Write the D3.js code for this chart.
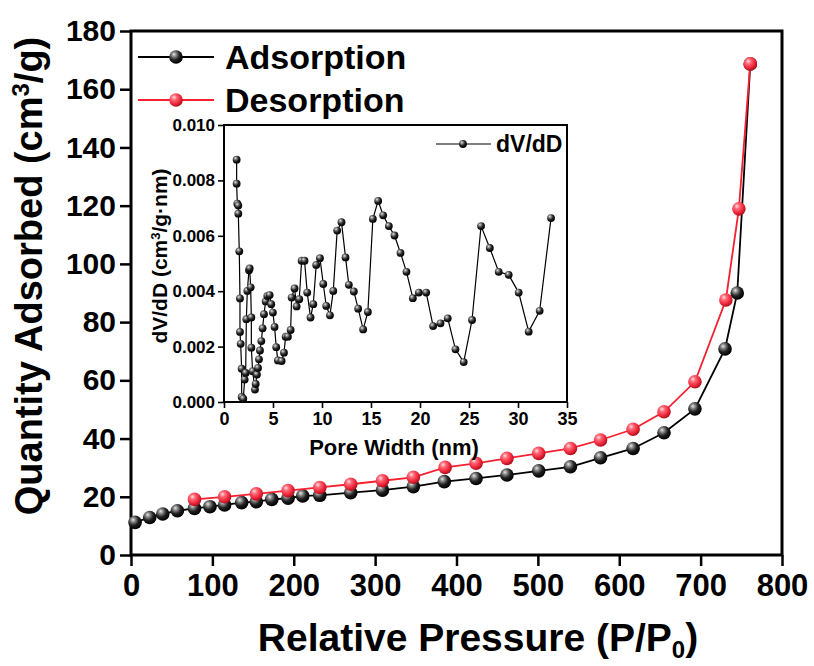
<!DOCTYPE html>
<html><head><meta charset="utf-8">
<script src="https://cdn.jsdelivr.net/npm/d3@7"></script>
<style>body{margin:0;background:#fff}svg text{font-family:"Liberation Sans",Arial,sans-serif;font-weight:bold;fill:#000}</style>
</head><body>
<svg id="c" width="814" height="666"></svg>
<script>
// ---- data ----
const adsPressure = [5,23,39,57,78,97,115,136,154,173,193,211,232,270,309,347,385,424,462,501,540,577,617,655,693,730,745,761];
const adsQuantity = [11.2,12.9,14.1,15.2,16.0,16.6,17.2,18.0,18.3,19.1,19.5,20.3,20.5,21.4,22.3,23.5,25.2,26.3,27.5,28.9,30.3,33.4,36.6,42.0,50.2,70.8,90.0,168.7];
const desPressure = [78,115,154,193,232,270,309,347,386,424,462,501,540,577,617,655,693,731,747,761];
const desQuantity = [19.1,20.0,21.0,22.1,23.2,24.3,25.5,26.7,30.1,31.5,33.2,34.9,36.6,39.5,43.2,49.2,59.5,87.6,118.9,168.7];
const poreWidth = [1.29,1.29,1.36,1.46,1.46,1.56,1.63,1.63,1.70,1.80,1.80,1.97,2.11,2.21,2.28,2.38,2.55,2.62,2.72,2.79,2.79,2.92,3.16,3.23,3.36,3.47,3.57,3.67,3.81,3.94,4.08,4.25,4.42,4.66,4.82,4.99,5.16,5.33,5.50,5.88,6.12,6.29,6.52,6.80,6.90,7.20,7.41,7.68,7.92,8.22,8.49,8.83,9.11,9.41,9.79,10.13,10.43,10.81,11.15,11.55,11.99,12.40,12.74,13.25,13.69,14.20,14.68,15.19,15.73,16.24,16.82,17.40,18.01,18.62,19.27,19.88,20.63,21.34,22.09,22.83,23.62,24.46,25.31,26.23,27.12,28.03,29.05,30.07,31.09,32.21,33.37];
const dVdD = [0.00875,0.00788,0.00716,0.00709,0.00680,0.00544,0.00374,0.00253,0.00210,0.00120,0.00018,0.00012,0.00081,0.00105,0.00299,0.00401,0.00476,0.00482,0.00414,0.00305,0.00196,0.00111,0.00045,0.00065,0.00099,0.00123,0.00154,0.00186,0.00220,0.00266,0.00317,0.00363,0.00383,0.00386,0.00353,0.00323,0.00271,0.00198,0.00150,0.00148,0.00178,0.00236,0.00236,0.00260,0.00377,0.00410,0.00345,0.00371,0.00510,0.00510,0.00395,0.00305,0.00353,0.00495,0.00519,0.00426,0.00347,0.00313,0.00401,0.00619,0.00649,0.00522,0.00423,0.00399,0.00337,0.00262,0.00325,0.00661,0.00726,0.00674,0.00635,0.00601,0.00538,0.00470,0.00375,0.00395,0.00395,0.00274,0.00284,0.00302,0.00190,0.00144,0.00296,0.00635,0.00556,0.00470,0.00459,0.00395,0.00254,0.00329,0.00664];
const mainXTicks = [0,100,200,300,400,500,600,700,800];
const mainYTicks = [0,20,40,60,80,100,120,140,160,180];
const insetXTicks = [0,5,10,15,20,25,30,35];
const insetYTicks = [0,0.002,0.004,0.006,0.008,0.010];
const seriesNames = ["Adsorption","Desorption"];
const insetName = "dV/dD";

// ---- setup ----
const svg = d3.select("#c");
const defs = svg.append("defs");
function grad(id, stops){
  const g = defs.append("radialGradient").attr("id",id).attr("cx","38%").attr("cy","35%").attr("r","65%").attr("fx","35%").attr("fy","30%");
  stops.forEach(s=>g.append("stop").attr("offset",s[0]).attr("stop-color",s[1]));
}
grad("gBlack",[["0%","#e8e8e8"],["25%","#8a8a8a"],["60%","#222"],["100%","#000"]]);
grad("gRed",[["0%","#ffe0e0"],["30%","#ff6a78"],["70%","#f0283c"],["100%","#b0101e"]]);

const x = d3.scaleLinear().domain([0,800]).range([131,782]);
const y = d3.scaleLinear().domain([0,180]).range([555,31]);

// main axes
const gx = svg.append("g").attr("transform","translate(0,555)");
gx.call(d3.axisBottom(x).tickValues(d3.range(50,800,100)).tickSize(6).tickFormat(""));
gx.call(d3.axisBottom(x).tickValues(mainXTicks).tickSize(11).tickPadding(8).tickFormat(d3.format("d")));
gx.selectAll("text").style("font-size","31px").attr("dy","0.72em");
const gy = svg.append("g").attr("transform","translate(131,0)");
gy.call(d3.axisLeft(y).tickValues(d3.range(10,180,20)).tickSize(6).tickFormat(""));
gy.call(d3.axisLeft(y).tickValues(mainYTicks).tickSize(11).tickPadding(4).tickFormat(d3.format("d")));
gy.selectAll("text").style("font-size","30px");
svg.selectAll(".domain").remove();
svg.selectAll(".tick line").attr("stroke","#000").attr("stroke-width",2.5);
svg.append("rect").attr("x",131).attr("y",31).attr("width",651).attr("height",524)
  .attr("fill","none").attr("stroke","#000").attr("stroke-width",3);

// axis titles
const yt = svg.append("text").attr("transform","translate(42,276) rotate(-90)").attr("text-anchor","middle").style("font-size","38px");
yt.append("tspan").text("Quantity Adsorbed (cm");
yt.append("tspan").text("3").style("font-size","24px").attr("dy","-0.55em");
yt.append("tspan").text("/g)").attr("dy","0.35em");
const xt = svg.append("text").attr("x",478).attr("y",651).attr("text-anchor","middle").style("font-size","39px");
xt.append("tspan").text("Relative Pressure (P/P");
xt.append("tspan").text("0").style("font-size","24px").attr("dy","0.3em");
xt.append("tspan").text(")").attr("dy","-0.2em");

// main series
const line = d3.line().x(d=>x(d[0])).y(d=>y(d[1]));
const ads = adsPressure.map((p,i)=>[p,adsQuantity[i]]);
const des = desPressure.map((p,i)=>[p,desQuantity[i]]);
svg.append("path").datum(ads).attr("d",line).attr("fill","none").attr("stroke","#000").attr("stroke-width",1.8);
svg.append("g").selectAll("circle").data(ads).join("circle")
  .attr("cx",d=>x(d[0])).attr("cy",d=>y(d[1])).attr("r",6.8).attr("fill","url(#gBlack)");
svg.append("path").datum(des).attr("d",line).attr("fill","none").attr("stroke","#f52030").attr("stroke-width",1.8);
svg.append("g").selectAll("circle").data(des).join("circle")
  .attr("cx",d=>x(d[0])).attr("cy",d=>y(d[1])).attr("r",6.8).attr("fill","url(#gRed)");

// main legend
const legY = [57,100];
const legCol = ["#000","#f52030"];
const legFill = ["url(#gBlack)","url(#gRed)"];
seriesNames.forEach((n,i)=>{
  svg.append("line").attr("x1",138).attr("x2",214).attr("y1",legY[i]).attr("y2",legY[i]).attr("stroke",legCol[i]).attr("stroke-width",1.8);
  svg.append("circle").attr("cx",176).attr("cy",legY[i]).attr("r",6.8).attr("fill",legFill[i]);
  svg.append("text").attr("x",225).attr("y",legY[i]).attr("dy","0.36em").style("font-size","34px").text(n);
});

// ---- inset ----
const ix = d3.scaleLinear().domain([0,35]).range([224,567]);
const iy = d3.scaleLinear().domain([0,0.010]).range([402,125]);
const ins = svg.append("g");
const igx = ins.append("g").attr("transform","translate(0,402)");
igx.call(d3.axisBottom(ix).tickValues(d3.range(2.5,35,5)).tickSize(3).tickFormat(""));
igx.call(d3.axisBottom(ix).tickValues(insetXTicks).tickSize(6).tickPadding(4).tickFormat(d3.format("d")));
igx.selectAll("text").style("font-size","18px").attr("dy","0.72em");
const igy = ins.append("g").attr("transform","translate(224,0)");
igy.call(d3.axisLeft(iy).tickValues(d3.range(0.001,0.010,0.002)).tickSize(3).tickFormat(""));
igy.call(d3.axisLeft(iy).tickValues(insetYTicks).tickSize(6).tickPadding(3).tickFormat(d3.format(".3f")));
igy.selectAll("text").style("font-size","17px");
ins.selectAll(".domain").remove();
ins.selectAll(".tick line").attr("stroke","#000").attr("stroke-width",1.6);
ins.append("rect").attr("x",224).attr("y",125).attr("width",343).attr("height",277)
  .attr("fill","none").attr("stroke","#000").attr("stroke-width",2);
const iyt = ins.append("text").attr("transform","translate(167,256) rotate(-90)").attr("text-anchor","middle").style("font-size","21px");
iyt.append("tspan").text("dV/dD (cm");
iyt.append("tspan").text("3").style("font-size","13px").attr("dy","-0.55em");
iyt.append("tspan").text("/g\u00b7nm)").attr("dy","0.35em");
ins.append("text").attr("x",394).attr("y",455).attr("text-anchor","middle").style("font-size","22px").text("Pore Width (nm)");
const pore = poreWidth.map((p,i)=>[p,dVdD[i]]);
const iline = d3.line().x(d=>ix(d[0])).y(d=>iy(d[1]));
ins.append("path").datum(pore).attr("d",iline).attr("fill","none").attr("stroke","#000").attr("stroke-width",1.2);
ins.append("g").selectAll("circle").data(pore).join("circle")
  .attr("cx",d=>ix(d[0])).attr("cy",d=>iy(d[1])).attr("r",3.9).attr("fill","url(#gBlack)");
ins.append("line").attr("x1",436).attr("x2",491).attr("y1",144).attr("y2",144).attr("stroke","#000").attr("stroke-width",1.2);
ins.append("circle").attr("cx",463).attr("cy",144).attr("r",3.9).attr("fill","url(#gBlack)");
ins.append("text").attr("x",496).attr("y",144).attr("dy","0.36em").style("font-size","23px").text(insetName);
</script>
</body></html>
